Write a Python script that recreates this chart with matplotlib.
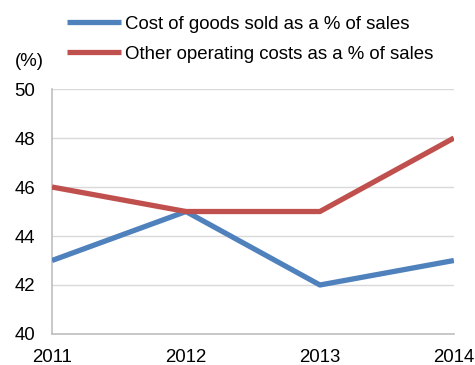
import matplotlib
matplotlib.use("Agg")
import matplotlib.pyplot as plt

plt.rcParams['font.family'] = ['Liberation Sans', 'DejaVu Sans']

years = [2011, 2012, 2013, 2014]
cogs = [43, 45, 42, 43]
other = [46, 45, 45, 48]
series_names = ["Cost of goods sold as a % of sales", "Other operating costs as a % of sales"]
yticks = [40, 42, 44, 46, 48, 50]

FS = 13.4

fig = plt.figure(figsize=(4.75, 3.65), dpi=100)
ax = fig.add_axes([0.1095, 0.085, 0.846, 0.671])

l1, = ax.plot(years, cogs, color='#4F81BD', lw=3.8, solid_capstyle='butt', label=series_names[0], zorder=3)
l2, = ax.plot(years, other, color='#C0504D', lw=3.8, solid_capstyle='butt', label=series_names[1], zorder=3)

ax.set_xlim(2011, 2014)
ax.set_ylim(40, 50)
ax.set_yticks(yticks)
ax.set_xticks(years)
ax.grid(axis='y', color='#D9D9D9', lw=1)
ax.set_axisbelow(True)
for s in ['top', 'right']:
    ax.spines[s].set_visible(False)
for s in ['left', 'bottom']:
    ax.spines[s].set_color('#BFBFBF')
    ax.spines[s].set_linewidth(1.2)
ax.tick_params(length=0, labelsize=FS, colors='black')
ax.tick_params(axis='y', pad=12)
ax.tick_params(axis='x', pad=11)

fig.text(15/475, 1 - 61/365, "(%)", fontsize=FS, va='center', ha='left')

fig.legend(handles=[l1, l2], loc='upper left', bbox_to_anchor=(51/475, 1.0),
           frameon=False, fontsize=FS, handlelength=2.9, handletextpad=0.2,
           labelspacing=0.68, borderaxespad=0.45)

fig.savefig("out.png", dpi=100)
